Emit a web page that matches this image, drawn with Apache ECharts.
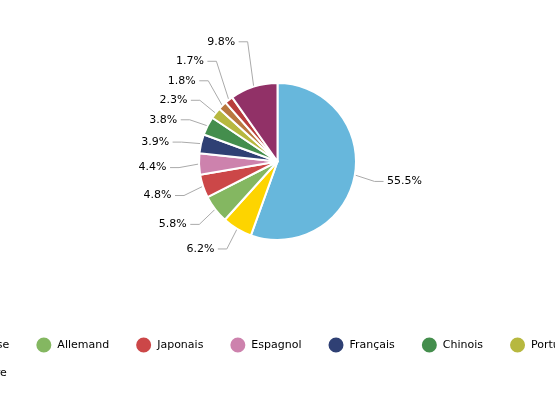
<!DOCTYPE html>
<html>
<head>
<meta charset="utf-8">
<script src="https://cdn.jsdelivr.net/npm/echarts@6/dist/echarts.min.js"></script>
<style>
  html, body { margin: 0; padding: 0; background: #fff; }
  #chart { width: 555px; height: 400px; }
</style>
</head>
<body>
<div id="chart"></div>
<script>
const langues = ['Anglais', 'Russe', 'Allemand', 'Japonais', 'Espagnol', 'Français', 'Chinois', 'Portugais', 'Italien', 'Polonais', 'Autre']
const parts = [55.5, 6.2, 5.8, 4.8, 4.4, 3.9, 3.8, 2.3, 1.8, 1.7, 9.8]
const couleurs = ['#67b7dc', '#fdd400', '#84b761', '#cc4748', '#cd82ad', '#2f4074', '#448e4d', '#b7b83f', '#b9783f', '#b93e3d', '#913167']
// légende sur deux lignes (Anglais tombe hors cadre à droite)
const legende1 = ['Russe', 'Allemand', 'Japonais', 'Espagnol', 'Français', 'Chinois', 'Portugais', 'Italien', 'Polonais', 'Anglais']
const legende2 = ['Autre']

const R = 78.5
const L1 = 20
const L2 = 9
const ecart = 19.5
const baisse = 3

// les étiquettes de gauche trop serrées remontent (on part du bas)
const total = parts.reduce((a, b) => a + b, 0)
let cumul = 0
const naturel = parts.map((v, i) => {
  const a = (cumul + v / 2) / total * Math.PI * 2
  cumul += v
  return { i, gauche: Math.sin(a) < 0, y: -Math.cos(a) * (R + L1) + baisse }
})
const decalage = {}
let precedent = null
naturel.forEach(n => { decalage[n.i] = baisse })
naturel.filter(n => n.gauche).sort((a, b) => b.y - a.y).forEach(n => {
  let y = n.y
  if (precedent !== null && y > precedent - ecart) y = precedent - ecart
  decalage[n.i] = y - n.y + baisse
  precedent = y
})

const chart = echarts.init(document.getElementById('chart'))
const legendeBase = {
  left: -46,
  width: 1200,
  padding: 0,
  icon: 'circle',
  itemWidth: 17,
  itemHeight: 17,
  itemGap: 25,
  textStyle: { fontSize: 11, color: '#000' }
}
chart.setOption({
  animation: false,
  color: couleurs,
  textStyle: { fontFamily: 'DejaVu Sans' },
  legend: [
    Object.assign({ data: legende1, top: 335.5 }, legendeBase),
    Object.assign({ data: legende2, top: 364 }, legendeBase)
  ],
  series: [
    {
      type: 'pie',
      center: [277.5, 161.5],
      radius: R,
      startAngle: 90,
      avoidLabelOverlap: false,
      data: langues.map((n, i) => ({ name: n, value: parts[i] })),
      itemStyle: { borderColor: '#fff', borderWidth: 2 },
      label: {
        formatter: '{c}%',
        fontSize: 11,
        color: '#000',
        distanceToLabelLine: 3.5
      },
      labelLine: {
        length: L1,
        length2: L2,
        lineStyle: { color: '#aaa', width: 1 }
      },
      labelLayout: p => {
        const dy = decalage[p.dataIndex]
        if (!dy || !p.labelLinePoints) return {}
        const pts = p.labelLinePoints.map(q => q.slice())
        pts[1][1] += dy
        pts[2][1] += dy
        return { y: p.labelLinePoints[2][1] + dy, labelLinePoints: pts }
      }
    }
  ]
})
</script>
</body>
</html>
